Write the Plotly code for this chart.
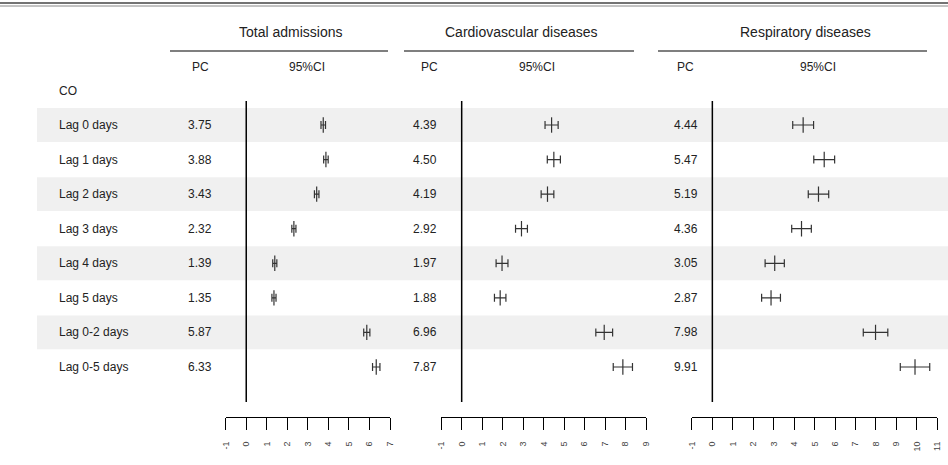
import plotly.graph_objects as go

# ---------------- data ----------------
lags = ["Lag 0 days", "Lag 1 days", "Lag 2 days", "Lag 3 days", "Lag 4 days",
        "Lag 5 days", "Lag 0-2 days", "Lag 0-5 days"]
outcomes = ["Total admissions", "Cardiovascular diseases", "Respiratory diseases"]
pollutant = "CO"

total_pc = [3.75, 3.88, 3.43, 2.32, 1.39, 1.35, 5.87, 6.33]
total_lo = [3.64, 3.77, 3.32, 2.22, 1.29, 1.25, 5.72, 6.15]
total_hi = [3.86, 3.99, 3.54, 2.42, 1.49, 1.45, 6.02, 6.51]

cardio_pc = [4.39, 4.50, 4.19, 2.92, 1.97, 1.88, 6.96, 7.87]
cardio_lo = [4.07, 4.18, 3.88, 2.63, 1.68, 1.60, 6.55, 7.40]
cardio_hi = [4.71, 4.82, 4.50, 3.21, 2.26, 2.16, 7.37, 8.34]

resp_pc = [4.44, 5.47, 5.19, 4.36, 3.05, 2.87, 7.98, 9.91]
resp_lo = [3.93, 4.96, 4.69, 3.88, 2.58, 2.41, 7.38, 9.19]
resp_hi = [4.95, 5.98, 5.69, 4.84, 3.52, 3.33, 8.58, 10.63]

axis_ranges = [(-1, 7), (-1, 9), (-1, 11)]

# ---------------- layout geometry (pixels) ----------------
W, H = 948, 465
PLOT_BOTTOM = 417          # axis line
ROW0 = 125                 # first row centre
ROWSTEP = 34.57
Y_TOP = -ROW0 / ROWSTEP
Y_BOT = (PLOT_BOTTOM - ROW0) / ROWSTEP

def py(pix):
    """pixel y -> y data units"""
    return (pix - ROW0) / ROWSTEP

def px(pix):
    return pix / W

panel_dom = [(225.7, 390.0), (441.2, 646.0), (691.9, 937.3)]
label_x = 57
pc_x = [186, 411, 672]
pc_head_x = [200, 429.5, 685.5]
ci_head_x = [306.5, 537, 817.5]
title_x = [291, 521, 805]
underline = [(170, 388), (404, 634), (658, 927)]

FONT = "Liberation Sans, Arial, sans-serif"
TXT = "#222222"

series = [(total_pc, total_lo, total_hi), (cardio_pc, cardio_lo, cardio_hi),
          (resp_pc, resp_lo, resp_hi)]

fig = go.Figure()
rows = list(range(len(lags)))
for k, (pc, lo, hi) in enumerate(series):
    xa = "x" if k == 0 else f"x{k+1}"
    fig.add_trace(go.Scatter(
        x=pc, y=rows, xaxis=xa, yaxis="y", mode="markers",
        marker=dict(symbol="line-ns", size=11, color="#333333",
                    line=dict(width=1.2, color="#333333")),
        error_x=dict(type="data", symmetric=False,
                     array=[h - p for h, p in zip(hi, pc)],
                     arrayminus=[p - l for p, l in zip(pc, lo)],
                     color="#333333", thickness=1.2, width=4),
        showlegend=False, hoverinfo="x+y"))

shapes = []
# shaded alternating rows
for i in rows:
    if i % 2 == 0:
        shapes.append(dict(type="rect", xref="paper", yref="y", layer="below",
                           x0=px(37), x1=1, y0=i - 0.49, y1=i + 0.49,
                           fillcolor="#f0f0f0", line=dict(width=0)))
# zero reference lines
for k in range(3):
    xa = "x" if k == 0 else f"x{k+1}"
    shapes.append(dict(type="line", xref=xa, yref="y", x0=0, x1=0,
                       y0=py(101), y1=py(402), line=dict(color="black", width=1.5)))
# header underlines
for a, b in underline:
    shapes.append(dict(type="line", xref="paper", yref="y", x0=px(a), x1=px(b),
                       y0=py(51), y1=py(51), line=dict(color="black", width=1.2)))
# top double rule
shapes.append(dict(type="line", xref="paper", yref="y", x0=0, x1=1,
                   y0=py(3), y1=py(3), line=dict(color="#444444", width=1.5)))
shapes.append(dict(type="line", xref="paper", yref="y", x0=0, x1=1,
                   y0=py(6), y1=py(6), line=dict(color="#888888", width=1)))

ann = []
def text(x, y, s, size=12, anchor="left"):
    ann.append(dict(x=px(x), y=py(y), xref="paper", yref="y", text=s,
                    showarrow=False, xanchor=anchor, yanchor="middle",
                    font=dict(family=FONT, size=size, color=TXT)))

for k in range(3):
    text(title_x[k], 32, outcomes[k], size=14, anchor="center")
    text(pc_head_x[k], 67, "PC", anchor="center")
    text(ci_head_x[k], 67, "95%CI", anchor="center")
text(label_x, 91, pollutant)
for i, lab in enumerate(lags):
    ypix = ROW0 + i * ROWSTEP
    text(label_x, ypix, lab)
    for k, (pc, lo, hi) in enumerate(series):
        text(pc_x[k], ypix, f"{pc[i]:.2f}")

layout_axes = {}
for k, (d, r) in enumerate(zip(panel_dom, axis_ranges)):
    name = "xaxis" if k == 0 else f"xaxis{k+1}"
    layout_axes[name] = dict(
        domain=[px(d[0]), px(d[1])], range=list(r), anchor="y",
        tickmode="array", tickvals=list(range(r[0], r[1] + 1)),
        ticktext=[str(v) for v in range(r[0], r[1] + 1)],
        showline=True, linecolor="black", linewidth=1,
        ticks="outside", ticklen=12, tickwidth=1, tickcolor="black",
        tickangle=-90, ticklabelstandoff=8,
        tickfont=dict(family=FONT, size=9, color="#444444"),
        showgrid=False, zeroline=False, automargin=False, fixedrange=True)

fig.update_layout(
    width=W, height=H,
    margin=dict(l=0, r=0, t=0, b=H - PLOT_BOTTOM),
    paper_bgcolor="white", plot_bgcolor="rgba(0,0,0,0)",
    yaxis=dict(range=[Y_BOT, Y_TOP], visible=False, showgrid=False,
               zeroline=False, domain=[0, 1], fixedrange=True),
    shapes=shapes, annotations=ann, **layout_axes)

fig.write_html("out.html", config={"displayModeBar": False},
               post_script="document.body.style.margin='0px';"
                           "document.body.style.overflow='hidden';")
